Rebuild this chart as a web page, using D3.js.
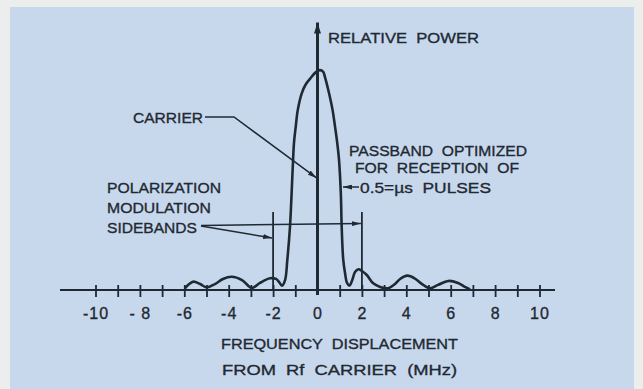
<!DOCTYPE html>
<html>
<head>
<meta charset="utf-8">
<script src="https://cdn.jsdelivr.net/npm/d3@7"></script>
<style>
  html, body { margin: 0; padding: 0; background: #eceeed; }
  svg { display: block; }
  text { font-family: "Liberation Sans", Arial, sans-serif; fill: #1f2933; stroke: #1f2933; stroke-width: 0.35px; white-space: pre; }
</style>
</head>
<body>
<svg id="chart" width="643" height="389"></svg>
<script>
// Spectrum of a pulsed carrier: relative power vs. frequency displacement (MHz)
const freqMHz = [-5.97, -5.83, -5.59, -5.29, -4.99, -4.62, -4.26, -3.86, -3.40, -2.96,
  -2.59, -2.14, -1.87, -1.73, -1.60, -1.46, -1.36, -1.24, -1.12, -1.06,
  -0.98, -0.89, -0.71, -0.52, -0.26, -0.07, 0.11, 0.25, 0.34, 0.52,
  0.68, 0.79, 0.89, 0.97, 1.05, 1.09, 1.16, 1.24, 1.33, 1.44,
  1.55, 1.69, 1.84, 2.00, 2.22, 2.51, 2.82, 3.19, 3.49, 3.72,
  4.05, 4.39, 4.71, 5.07, 5.43, 5.89, 6.33, 6.64, 6.87];
const relPower = [0.007, 0.023, 0.038, 0.027, 0.012, 0.027, 0.050, 0.060, 0.045, 0.009,
  0.032, 0.053, 0.050, 0.036, 0.020, 0.045, 0.136, 0.285, 0.543, 0.665,
  0.739, 0.814, 0.890, 0.932, 0.965, 0.986, 0.995, 0.988, 0.962, 0.890,
  0.814, 0.739, 0.665, 0.588, 0.439, 0.285, 0.136, 0.077, 0.032, 0.020,
  0.041, 0.081, 0.094, 0.086, 0.068, 0.030, 0.014, 0.008, 0.027, 0.050,
  0.065, 0.052, 0.027, 0.008, 0.023, 0.041, 0.032, 0.014, 0.003];

const tickValues = d3.range(-10, 11);
const tickLabels = ["-10", "", "- 8", "", "-6", "", "-4", "", "-2", "", "0",
  "", "2", "", "4", "", "6", "", "8", "", "10"];

const sidebandFreqs = [-2, 2];      // polarization modulation sidebands
const sidebandMarkHeight = 0.353;   // relative height of the sideband markers
const carrierPointer = 0.507;       // level where the carrier leader meets the axis
const passbandPointer = 0.466;      // level where the passband leader meets the lobe
const axisTop = 1.21;

const ink = "#1f2933";
const svg = d3.select("#chart");

// panel
svg.append("rect").attr("x", 10).attr("y", 7).attr("width", 624).attr("height", 382)
  .attr("fill", "#c8d8ec");

const x = d3.scaleLinear().domain([-10, 10]).range([95.5, 539.5]);
const y = d3.scaleLinear().domain([0, 1]).range([290, 69]);

const defs = svg.append("defs");
function marker(id, w, h) {
  defs.append("marker").attr("id", id)
    .attr("viewBox", `0 0 ${w} ${h}`).attr("refX", w).attr("refY", h / 2)
    .attr("markerWidth", w).attr("markerHeight", h).attr("markerUnits", "userSpaceOnUse")
    .attr("orient", "auto")
    .append("path").attr("d", `M0,0 L${w},${h / 2} L0,${h} Z`).attr("fill", ink);
}
marker("arrow", 9, 5);
marker("arrowBig", 11, 7);

// frequency axis with crossing ticks
const xAxis = d3.axisBottom(x).tickValues(tickValues)
  .tickFormat((d, i) => tickLabels[i]).tickSize(7).tickSizeOuter(0);
const gx = svg.append("g").attr("transform", `translate(0,${y(0)})`).call(xAxis);
gx.select(".domain").remove();
gx.selectAll(".tick line").attr("y1", -5).attr("y2", 7)
  .attr("stroke", ink).attr("stroke-width", 1.8)
  .filter(d => d === 0).remove();
gx.selectAll(".tick text").attr("y", 0).attr("dy", 0)
  .attr("transform", "translate(0,29)")
  .attr("font-size", 16).attr("letter-spacing", 1).attr("fill", ink)
  .style("font-family", "Liberation Sans, Arial, sans-serif");
svg.append("line").attr("x1", 60).attr("x2", 555).attr("y1", y(0)).attr("y2", y(0))
  .attr("stroke", ink).attr("stroke-width", 2.2);

// relative power axis
svg.append("line").attr("x1", x(0)).attr("x2", x(0))
  .attr("y1", y(0) + 5).attr("y2", y(axisTop))
  .attr("stroke", ink).attr("stroke-width", 3)
  .attr("marker-end", "url(#arrowBig)");

// sideband markers
svg.selectAll(".sb").data(sidebandFreqs).enter().append("line")
  .attr("x1", d => x(d)).attr("x2", d => x(d))
  .attr("y1", y(0)).attr("y2", y(sidebandMarkHeight))
  .attr("stroke", ink).attr("stroke-width", 1.8);

// spectrum
const pts = freqMHz.map((f, i) => [f, relPower[i]]);
svg.append("path").datum(pts)
  .attr("d", d3.line().x(d => x(d[0])).y(d => y(d[1])).curve(d3.curveCatmullRom.alpha(0.5)))
  .attr("fill", "none").attr("stroke", ink).attr("stroke-width", 2.6)
  .attr("stroke-linejoin", "round");

// annotations
function label(t, x0, yb, len) {
  const el = svg.append("text").attr("x", x0).attr("y", yb).attr("font-size", 15.5).text(t);
  if (len) el.attr("textLength", len).attr("lengthAdjust", "spacingAndGlyphs");
  return el;
}
label("RELATIVE  POWER", 328, 43, 151);

label("CARRIER", 133, 123, 70);
svg.append("path")
  .attr("d", `M205,117 L234,117 L${x(0) - 1},${y(carrierPointer)}`)
  .attr("fill", "none").attr("stroke", ink).attr("stroke-width", 1.5)
  .attr("marker-end", "url(#arrow)");

label("PASSBAND  OPTIMIZED", 349, 156, 178);
label("FOR  RECEPTION  OF", 355, 173, 164);
label("0.5=µs  PULSES", 360, 193, 131);
svg.append("line").attr("x1", 359).attr("x2", 343)
  .attr("y1", y(passbandPointer)).attr("y2", y(passbandPointer))
  .attr("stroke", ink).attr("stroke-width", 1.5).attr("marker-end", "url(#arrow)");

label("POLARIZATION", 107, 193, 114);
label("MODULATION", 107, 213, 104);
label("SIDEBANDS", 107, 233, 90);
svg.append("line").attr("x1", 201).attr("y1", 225.5).attr("x2", x(2) - 1).attr("y2", 223.5)
  .attr("stroke", ink).attr("stroke-width", 1.5).attr("marker-end", "url(#arrow)");
svg.append("line").attr("x1", 201).attr("y1", 226).attr("x2", x(-2) - 1).attr("y2", 238)
  .attr("stroke", ink).attr("stroke-width", 1.5).attr("marker-end", "url(#arrow)");

label("FREQUENCY  DISPLACEMENT", 221, 349, 237);
label("FROM  Rf  CARRIER  (MHz)", 222, 375, 235);
</script>
</body>
</html>
